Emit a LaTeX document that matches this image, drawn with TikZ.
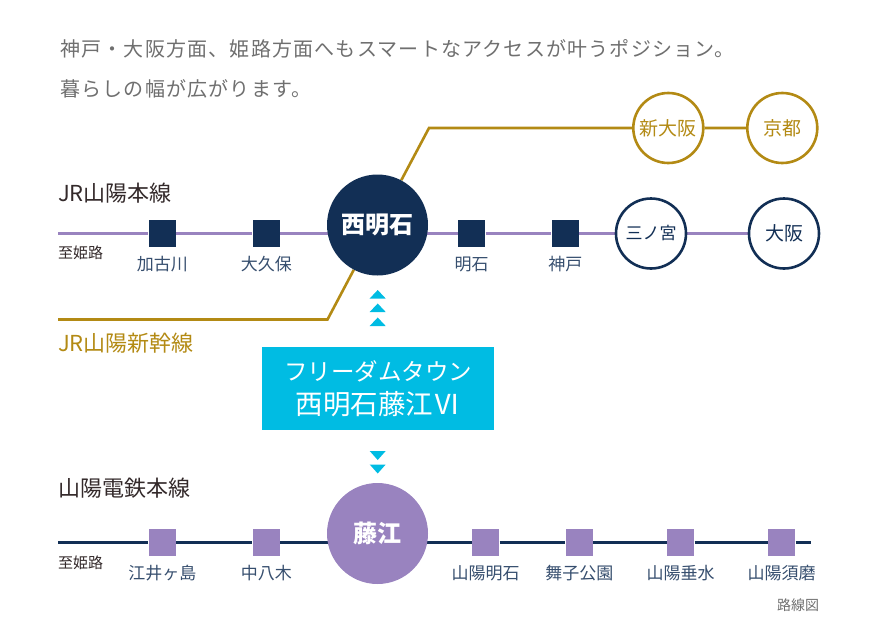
\documentclass[tikz,border=0pt]{standalone}
\usepackage{fontspec}
\usepackage{xcolor}
\usetikzlibrary{backgrounds}
\setmainfont{Noto Sans CJK JP}
\newfontfamily\leadfont[LetterSpace=6]{Noto Sans CJK JP}
\definecolor{navy}{HTML}{122F55}
\definecolor{lilac}{HTML}{9983BF}
\definecolor{gold}{HTML}{B38A14}
\definecolor{aqua}{HTML}{00BCE3}
\definecolor{inkgrey}{HTML}{6F6F6F}
\definecolor{inkdark}{HTML}{33292A}
\newcommand{\px}[1]{\fontsize{#1}{#1}\selectfont}
\tikzset{
  lead/.style={text=inkgrey, font=\leadfont\px{20}, anchor=west, inner sep=0pt},
  lineName/.style={font=\px{22}, anchor=west, inner sep=0pt},
  toName/.style={text=inkdark, font=\px{15}, anchor=west, inner sep=0pt},
  stnLab/.style={text=navy!85, font=\px{17}, inner sep=0pt},
  stnNavy/.style={fill=navy, minimum size=27.5pt, inner sep=0pt},
  stnLilac/.style={fill=lilac, minimum size=27.5pt, inner sep=0pt},
  hubNode/.style={circle, minimum size=101pt, inner sep=0pt, text=white, font=\px{24}\bfseries},
  ringGold/.style={circle, draw=gold, fill=white, line width=2.6pt, minimum size=70pt, inner sep=0pt, text=gold, font=\px{19}},
  ringNavy/.style={circle, draw=navy, fill=white, line width=2.6pt, minimum size=70pt, inner sep=0pt, text=navy, font=\px{19}},
  railLilac/.style={line width=2.4pt, draw=lilac},
  railGold/.style={line width=2.6pt, draw=gold},
  railNavy/.style={line width=2.4pt, draw=navy},
  pointer/.style={fill=aqua}
}
\begin{document}
\begin{tikzpicture}[x=1pt,y=-1pt]
\useasboundingbox (0,0) rectangle (878,635);

\node[lead] (leadA) at (60,49) {神戸・大阪方面、姫路方面へもスマートなアクセスが叶うポジション。};
\node[lead] (leadB) at (60,89) {暮らしの幅が広がります。};

\node[lineName,text=inkdark] (nameHonsen) at (58,193) {JR山陽本線};
\node[lineName,text=gold] (nameShinkansen) at (58,343) {JR山陽新幹線};
\node[lineName,text=inkdark] (nameDentetsu) at (58,488) {山陽電鉄本線};
\node[toName] (toHimejiA) at (58,253) {至姫路};
\node[toName] (toHimejiB) at (58,563) {至姫路};

% JR line
\node[hubNode,fill=navy] (nishiAkashi) at (377.5,225) {西明石};
\foreach \nm/\x/\lab in {kakogawa/162.3/加古川,okubo/266.3/大久保,akashi/471.7/明石,kobe/565.4/神戸}{
  \node[stnNavy] (\nm) at (\x,233.5) {};
  \node[stnLab] (\nm Lab) at (\x,264.5) {\lab};
}
\node[ringNavy] (sannomiya) at (651,233.5) {\px{17}三ノ宮};
\node[ringNavy] (osaka) at (784,233.5) {大阪};

% shinkansen
\node[ringGold] (shinOsaka) at (668.3,128) {新大阪};
\node[ringGold] (kyoto) at (782.3,128) {京都};
\coordinate (goldStart) at (58,319.5);
\coordinate (goldLow) at (327.5,319.5);
\coordinate (goldHigh) at (429,128);

% sanyo line
\node[hubNode,fill=lilac] (fujie) at (377.5,533.5) {藤江};
\foreach \nm/\x/\lab in {etsui/162.3/江井ヶ島,nakayagi/266.3/中八木,sanyoAkashi/485.7/山陽明石,maiko/579.3/舞子公園,tarumi/680.7/山陽垂水,suma/781.7/山陽須磨}{
  \node[stnLilac] (\nm) at (\x,542.3) {};
  \node[stnLab] (\nm Lab) at (\x,573) {\lab};
}
\coordinate (honsenStart) at (58,233.5);
\coordinate (dentetsuStart) at (58,542.3);
\coordinate (dentetsuEnd) at (811,542.3);

\begin{scope}[on background layer]
\draw[railLilac] (honsenStart) -- (kakogawa) -- (okubo) -- (akashi) -- (kobe) -- (sannomiya) -- (osaka);
\draw[railGold] (goldStart) -- (goldLow) -- (nishiAkashi);
\draw[railGold] (nishiAkashi) -- (goldHigh) -- (shinOsaka) -- (kyoto);
\draw[railNavy] (dentetsuStart) -- (etsui) -- (nakayagi) -- (sanyoAkashi) -- (maiko) -- (tarumi) -- (suma) -- (dentetsuEnd);
\end{scope}

% town
\node[fill=aqua, minimum width=232.5pt, minimum height=83.5pt, inner sep=0pt, text=white, align=center, font=\px{23.5}] (town) at (378,388.7) {フリーダムタウン\\[9pt]{\px{27.5}西明石藤江Ⅵ}};
\foreach \y in {290,303.5,317.5}{
  \fill[pointer] (377.7,\y) -- ++(8,8.5) -- ++(-16,0) -- cycle;
}
\foreach \y in {451,464.5}{
  \fill[pointer] (377.7,\y+9) -- ++(8,-9) -- ++(-16,0) -- cycle;
}

\node[text=inkgrey, font=\px{14}, inner sep=0pt] (caption) at (798,605) {路線図};
\end{tikzpicture}
\end{document}
